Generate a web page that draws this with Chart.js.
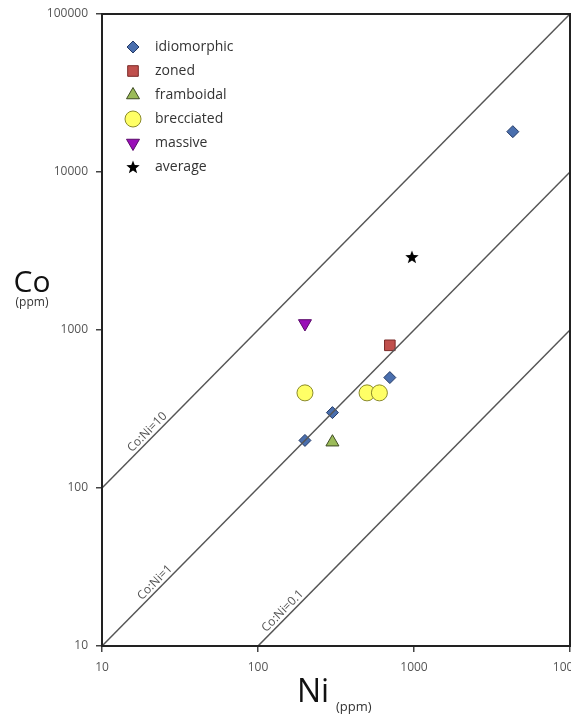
<!DOCTYPE html>
<html>
<head>
<meta charset="utf-8">
<script src="https://cdn.jsdelivr.net/npm/chart.js@4/dist/chart.umd.min.js"></script>
<style>
  html, body { margin: 0; padding: 0; background: #fff; }
  #wrap { width: 571px; height: 715px; }
</style>
</head>
<body>
<div id="wrap"><canvas id="myChart" width="571" height="715"></canvas></div>
<script>
// Ni (x) and Co (y) in ppm
const idiomorphicNi = [200, 300, 700, 4300];
const idiomorphicCo = [200, 300, 500, 18000];
const zonedNi = [700];
const zonedCo = [800];
const framboidalNi = [300];
const framboidalCo = [195];
const brecciatedNi = [200, 500, 600];
const brecciatedCo = [400, 400, 400];
const massiveNi = [200];
const massiveCo = [1100];
const averageNi = [970];
const averageCo = [2900];

const ratios = [10, 1, 0.1];
const ratioLabels = ['Co:Ni=10', 'Co:Ni=1', 'Co:Ni=0.1'];
const ratioLabelAt = [21, 23.5, 155];   // Ni value where each line label sits

const xTicks = [10, 100, 1000, 10000];
const yTicks = [10, 100, 1000, 10000, 100000];

function pts(xs, ys) {
	const out = [];
	for (let i = 0; i < xs.length; i++) out.push({x: xs[i], y: ys[i]});
	return out;
}

// filled star for the "average" point
function starImage(size) {
	const c = document.createElement('canvas');
	c.width = size; c.height = size;
	const g = c.getContext('2d');
	const cx = size / 2, cy = size / 2 + 0.5, R = size / 2, r = R * 0.42;
	g.beginPath();
	for (let i = 0; i < 10; i++) {
		const a = -Math.PI / 2 + i * Math.PI / 5;
		const rr = i % 2 ? r : R;
		g.lineTo(cx + rr * Math.cos(a), cy + rr * Math.sin(a));
	}
	g.closePath();
	g.fillStyle = '#000';
	g.fill();
	return c;
}
const star = starImage(14);

const series = [
	{label: 'idiomorphic', data: pts(idiomorphicNi, idiomorphicCo), pointStyle: 'rectRot', pointRadius: 6, backgroundColor: '#4a6fae', borderColor: '#243a66', pointBorderWidth: 1},
	{label: 'zoned', data: pts(zonedNi, zonedCo), pointStyle: 'rect', pointRadius: 7.5, backgroundColor: '#c0504d', borderColor: '#7a2a28', pointBorderWidth: 1},
	{label: 'framboidal', data: pts(framboidalNi, framboidalCo), pointStyle: 'triangle', pointRadius: 7.5, backgroundColor: '#9bbb59', borderColor: '#3d4a22', pointBorderWidth: 1},
	{label: 'brecciated', data: pts(brecciatedNi, brecciatedCo), pointStyle: 'circle', pointRadius: 8, backgroundColor: '#ffff66', borderColor: '#8a8a2a', pointBorderWidth: 1},
	{label: 'massive', data: pts(massiveNi, massiveCo), pointStyle: 'triangle', rotation: 180, pointRadius: 7.5, backgroundColor: '#9a0fb8', borderColor: '#5a0a6a', pointBorderWidth: 1},
	{label: 'average', data: pts(averageNi, averageCo), pointStyle: star, pointRadius: 7, backgroundColor: '#000', borderColor: '#000'}
];

const datasets = [];
for (let i = 0; i < ratios.length; i++) {
	datasets.push({
		label: ratioLabels[i],
		data: [{x: 10, y: 10 * ratios[i]}, {x: 10000, y: 10000 * ratios[i]}],
		showLine: true,
		borderColor: '#555',
		borderWidth: 1.5,
		pointRadius: 0,
		pointHoverRadius: 0
	});
}
for (const s of series) datasets.push(s);

const font = "'Open Sans', 'DejaVu Sans', sans-serif";

const extras = {
	id: 'extras',
	afterDraw(chart) {
		const ctx = chart.ctx;
		const a = chart.chartArea;
		const xs = chart.scales.x, ys = chart.scales.y;
		ctx.save();
		// frame
		ctx.strokeStyle = '#222';
		ctx.lineWidth = 2;
		ctx.strokeRect(a.left, a.top, a.right - a.left, a.bottom - a.top);

		// ratio line labels
		ctx.fillStyle = '#555';
		ctx.font = '12px ' + font;
		ctx.textAlign = 'center';
		ctx.textBaseline = 'bottom';
		for (let i = 0; i < ratios.length; i++) {
			const px = xs.getPixelForValue(ratioLabelAt[i]);
			const py = ys.getPixelForValue(ratioLabelAt[i] * ratios[i]);
			const ang = Math.atan2(ys.getPixelForValue(1000 * ratios[i]) - ys.getPixelForValue(100 * ratios[i]),
				xs.getPixelForValue(1000) - xs.getPixelForValue(100));
			ctx.save();
			ctx.translate(px, py);
			ctx.rotate(ang);
			ctx.fillText(ratioLabels[i], 0, -1);
			ctx.restore();
		}

		// legend
		let ly = a.top + 33;
		ctx.textAlign = 'left';
		ctx.textBaseline = 'middle';
		ctx.font = '14px ' + font;
		for (const s of series) {
			ctx.fillStyle = s.backgroundColor;
			ctx.strokeStyle = s.borderColor;
			ctx.lineWidth = s.pointBorderWidth || 0;
			if (typeof s.pointStyle === 'string') {
				Chart.helpers.drawPoint(ctx, {
					pointStyle: s.pointStyle, rotation: s.rotation || 0,
					radius: s.pointRadius, borderWidth: s.pointBorderWidth || 0
				}, a.left + 31, ly);
			} else {
				ctx.drawImage(s.pointStyle, a.left + 31 - s.pointStyle.width / 2, ly - s.pointStyle.height / 2);
			}
			ctx.fillStyle = '#333';
			ctx.fillText(s.label, a.left + 53, ly);
			ly += 24;
		}

		// axis titles
		ctx.fillStyle = '#111';
		ctx.textAlign = 'center';
		ctx.textBaseline = 'alphabetic';
		ctx.font = '30px ' + font;
		ctx.fillText('Co', 32, 292);
		ctx.font = '12px ' + font;
		ctx.fillStyle = '#333';
		ctx.fillText('(ppm)', 32, 306);

		ctx.fillStyle = '#111';
		ctx.font = '32px ' + font;
		ctx.textAlign = 'left';
		ctx.fillText('Ni', 297, 702);
		ctx.font = '13px ' + font;
		ctx.fillStyle = '#333';
		ctx.fillText('(ppm)', 336, 711);
		ctx.restore();
	}
};

const myChart = new Chart(document.getElementById('myChart'), {
	type: 'scatter',
	data: {datasets: datasets},
	options: {
		responsive: false,
		animation: false,
		layout: {padding: {top: 14, right: 1, left: 0, bottom: 0}},
		scales: {
			x: {
				type: 'logarithmic',
				min: 10,
				max: 10000,
				afterBuildTicks(scale) { scale.ticks = xTicks.map(v => ({value: v})); },
				afterFit(scale) { scale.height = 69; scale.paddingRight = 0; scale.paddingLeft = 0; },
				grid: {display: true, drawOnChartArea: false, tickLength: 6, color: '#444', lineWidth: 1.5},
				border: {display: true, color: '#222', width: 2},
				ticks: {
					autoSkip: false, maxRotation: 0,
					callback: v => String(v),
					color: '#555', padding: 8,
					font: {size: 12, family: font}
				}
			},
			y: {
				type: 'logarithmic',
				min: 10,
				max: 100000,
				afterBuildTicks(scale) { scale.ticks = yTicks.map(v => ({value: v})); },
				afterFit(scale) { scale.width = 102; scale.paddingTop = 0; scale.paddingBottom = 0; scale.paddingRight = 0; },
				grid: {display: true, drawOnChartArea: false, tickLength: 6, color: '#444', lineWidth: 1.5},
				border: {display: true, color: '#222', width: 2},
				ticks: {
					autoSkip: false,
					callback: v => String(v),
					color: '#555', padding: 8,
					font: {size: 12, family: font}
				}
			}
		},
		plugins: {
			legend: {display: false},
			tooltip: {enabled: false}
		}
	},
	plugins: [extras, {
		// pin the plot area to the frame seen in the reference
		id: 'pinArea',
		afterLayout(chart) {
			const a = chart.chartArea;
			const shift = 570 - a.right;
			if (shift > 0) {
				a.right = 570;
				a.width = a.right - a.left;
				const x = chart.scales.x;
				x.right = 570;
				x.width = x.right - x.left;
				x.configure();
				chart.scales.y.configure();
			}
		}
	}]
});
</script>
</body>
</html>
